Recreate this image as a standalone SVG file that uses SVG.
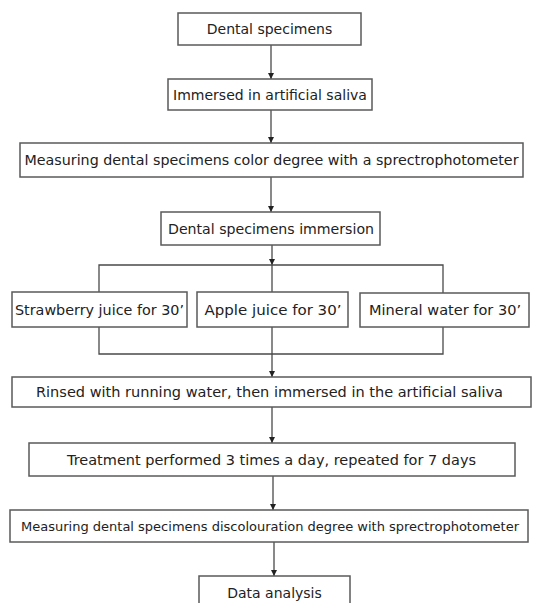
<svg xmlns="http://www.w3.org/2000/svg" width="539" height="603" viewBox="0 0 539 603">
<style>
.box{fill:#fff;stroke:#5a5a5a;stroke-width:1.5}
.t{font-family:"DejaVu Sans","Liberation Sans",sans-serif;font-size:14px;fill:#222;text-anchor:middle}
.s{font-size:13px}
.c{fill:none;stroke:#4a4a4a;stroke-width:1.3}
.a{fill:none;stroke:#4a4a4a;stroke-width:1.3;marker-end:url(#ah)}
</style>
<defs>
<marker id="ah" viewBox="0 0 8 8" refX="8" refY="4" markerWidth="6" markerHeight="6" markerUnits="userSpaceOnUse" orient="auto">
<path d="M0,0 L8,4 L0,8 Z" fill="#222"/>
</marker>
</defs>
<rect width="539" height="603" fill="#fff"/>
<g id="connectors">
<line class="a" x1="271" y1="45" x2="271" y2="79"/>
<line class="a" x1="271" y1="110" x2="271" y2="143"/>
<line class="a" x1="271" y1="177" x2="271" y2="212"/>
<line class="a" x1="272" y1="245" x2="272" y2="265"/>
<polyline class="c" points="99,292 99,265 443,265 443,293"/>
<line class="c" x1="272" y1="265" x2="272" y2="292"/>
<polyline class="c" points="99,327 99,354 443,354 443,327"/>
<line class="c" x1="272" y1="327" x2="272" y2="354"/>
<line class="a" x1="272" y1="354" x2="272" y2="377"/>
<line class="a" x1="272" y1="407" x2="272" y2="443"/>
<line class="a" x1="273" y1="476" x2="273" y2="510"/>
<line class="a" x1="274" y1="542" x2="274" y2="576"/>
</g>
<g id="n1"><rect class="box" x="178" y="13" width="183" height="32"/><text class="t" x="269.5" y="34">Dental specimens</text></g>
<g id="n2"><rect class="box" x="168" y="79" width="204" height="31"/><text class="t" x="270" y="99.5">Immersed in artificial saliva</text></g>
<g id="n3"><rect class="box" x="20" y="143" width="503" height="34"/><text class="t" x="271.5" y="165" textLength="494" lengthAdjust="spacingAndGlyphs">Measuring dental specimens color degree with a sprectrophotometer</text></g>
<g id="n4"><rect class="box" x="161" y="212" width="219" height="33"/><text class="t" x="271" y="233.5" textLength="206" lengthAdjust="spacingAndGlyphs">Dental specimens immersion</text></g>
<g id="n5"><rect class="box" x="12" y="292" width="175" height="35"/><text class="t" x="99.5" y="314.5" textLength="169" lengthAdjust="spacingAndGlyphs">Strawberry juice for 30’</text></g>
<g id="n6"><rect class="box" x="197" y="292" width="151" height="35"/><text class="t" x="273" y="314.5" textLength="137" lengthAdjust="spacingAndGlyphs">Apple juice for 30’</text></g>
<g id="n7"><rect class="box" x="360" y="293" width="169" height="34"/><text class="t" x="445" y="314.5" textLength="152" lengthAdjust="spacingAndGlyphs">Mineral water for 30’</text></g>
<g id="n8"><rect class="box" x="12" y="377" width="519" height="30"/><text class="t" x="269.5" y="397" textLength="467" lengthAdjust="spacingAndGlyphs">Rinsed with running water, then immersed in the artificial saliva</text></g>
<g id="n9"><rect class="box" x="29" y="443" width="486" height="33"/><text class="t" x="271.5" y="464.5" textLength="409" lengthAdjust="spacingAndGlyphs">Treatment performed 3 times a day, repeated for 7 days</text></g>
<g id="n10"><rect class="box" x="10" y="510" width="518" height="32"/><text class="t s" x="270" y="531" textLength="498" lengthAdjust="spacingAndGlyphs">Measuring dental specimens discolouration degree with sprectrophotometer</text></g>
<g id="n11"><rect class="box" x="199" y="576" width="151" height="40"/><text class="t" x="274.5" y="598">Data analysis</text></g>
</svg>
